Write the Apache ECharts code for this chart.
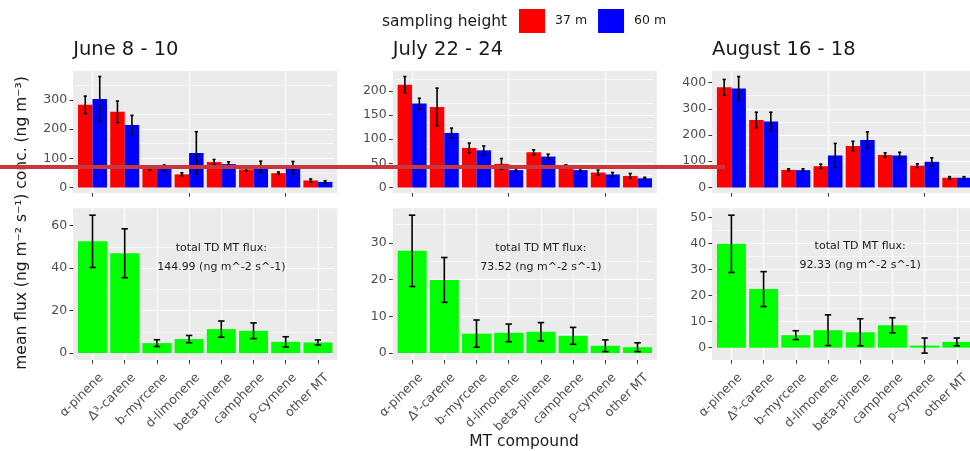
<!DOCTYPE html>
<html>
<head>
<meta charset="utf-8">
<script src="https://cdn.jsdelivr.net/npm/echarts@6/dist/echarts.min.js"></script>
<style>
  html, body { margin: 0; padding: 0; background: #fff; }
  #chart { width: 970px; height: 451px; }
</style>
</head>
<body>
<div id="chart"></div>
<script>
/* MT concentrations (top row, 37 m vs 60 m) and fluxes (bottom row), faceted by period */

const categories = ["α-pinene", "Δ³-carene", "b-myrcene", "d-limonene", "beta-pinene", "camphene", "p-cymene", "other MT"];
const periods = ["June 8 - 10", "July 22 - 24", "August 16 - 18"];

// concentration, ng m^-3 (mean and error half-width)
const conc37Jun    = [283, 259, 65, 45, 87, 62, 49, 24];
const conc37JunErr = [30, 37, 5, 5, 9, 5, 4, 5];
const conc60Jun    = [303, 214, 66, 118, 80, 70, 68, 19];
const conc60JunErr = [77, 33, 11, 73, 8, 20, 21, 4];

const conc37Jul    = [213, 167, 82, 49, 73, 44, 31, 24];
const conc37JulErr = [17, 39, 10, 11, 5, 3, 5, 5];
const conc60Jul    = [174, 113, 77, 36, 64, 36, 27, 19];
const conc60JulErr = [11, 10, 9, 3, 5, 3, 4, 2];

const conc37Aug    = [382, 257, 67, 81, 158, 124, 83, 37];
const conc37AugErr = [30, 30, 4, 8, 18, 8, 7, 4];
const conc60Aug    = [377, 252, 66, 122, 181, 122, 98, 37];
const conc60AugErr = [46, 35, 5, 46, 31, 12, 15, 4];

// flux, ng m^-2 s^-1
const fluxJun    = [52.6, 47.0, 4.7, 6.6, 11.3, 10.5, 5.3, 5.0];
const fluxJunErr = [12.3, 11.5, 1.6, 1.7, 3.8, 3.7, 2.4, 1.2];
const fluxJul    = [27.8, 19.9, 5.3, 5.5, 5.8, 4.7, 2.0, 1.6];
const fluxJulErr = [9.7, 6.1, 3.7, 2.4, 2.5, 2.3, 1.6, 1.2];
const fluxAug    = [39.9, 22.5, 4.8, 6.7, 5.9, 8.6, 0.8, 2.2];
const fluxAugErr = [11.0, 6.7, 1.7, 5.9, 5.2, 2.9, 2.9, 1.5];

const totalFlux  = ["144.99", "73.52", "92.33"];
const totalFluxY = [45, 26, 35.4];   // where the label sits (data units)

const concTicks = [[0, 100, 200, 300], [0, 50, 100, 150, 200], [0, 100, 200, 300, 400]];
const fluxTicks = [[0, 20, 40, 60], [0, 10, 20, 30], [0, 10, 20, 30, 40, 50]];

(function () {
  const FONT = "DejaVu Sans";
  const chart = echarts.init(document.getElementById("chart"), null, { renderer: "canvas" });

  const conc = [
    [conc37Jun, conc37JunErr, conc60Jun, conc60JunErr],
    [conc37Jul, conc37JulErr, conc60Jul, conc60JulErr],
    [conc37Aug, conc37AugErr, conc60Aug, conc60AugErr]
  ];
  const flux = [[fluxJun, fluxJunErr], [fluxJul, fluxJulErr], [fluxAug, fluxAugErr]];

  // layout (ggplot panel = grid + 0.1 band on each side)
  const band = 32.2;
  const colLeft = [76.4, 396, 715.3];
  const rowTop = [71, 208.3];
  const rowH = [122, 151.7];

  // ggplot-like limits: include 0 and error bars, expand 5%
  function limits(sets) {
    let lo = 0, hi = 0;
    sets.forEach(([v, e]) => v.forEach((x, i) => {
      lo = Math.min(lo, x - e[i]);
      hi = Math.max(hi, x + e[i]);
    }));
    const pad = (hi - lo) * 0.05;
    return [lo - pad, hi + pad];
  }

  function errorBars(offset, cap) {
    return function (params, api) {
      const i = api.value(0), v = api.value(1), e = api.value(2);
      const w = api.size([1, 0])[0];
      const top = api.coord([i, v + e]);
      const bot = api.coord([i, v - e]);
      const x = top[0] + offset * w;
      const h = cap * w / 2;
      const style = { stroke: "#000", lineWidth: 1.6 };
      return {
        type: "group",
        children: [
          { type: "line", shape: { x1: x, y1: top[1], x2: x, y2: bot[1] }, style },
          { type: "line", shape: { x1: x - h, y1: top[1], x2: x + h, y2: top[1] }, style },
          { type: "line", shape: { x1: x - h, y1: bot[1], x2: x + h, y2: bot[1] }, style }
        ]
      };
    };
  }

  const grids = [], xAxes = [], yAxes = [], series = [], graphics = [];

  for (let r = 0; r < 2; r++) {
    for (let c = 0; c < 3; c++) {
      const k = r * 3 + c;
      const lim = r === 0
        ? limits([[conc[c][0], conc[c][1]], [conc[c][2], conc[c][3]]])
        : limits([flux[c]]);
      const ticks = r === 0 ? concTicks[c] : fluxTicks[c];
      const step = ticks[1] - ticks[0];

      grids.push({
        left: colLeft[c], top: rowTop[r], width: band * 8, height: rowH[r],
        containLabel: false, outerBoundsMode: "none", show: false
      });

      // panel background
      graphics.push({
        type: "rect", z: -1, silent: true,
        shape: { x: colLeft[c] - band * 0.1, y: rowTop[r], width: band * 8.2, height: rowH[r] },
        style: { fill: "#ebebeb" }
      });

      xAxes.push({
        type: "category", gridIndex: k, data: categories, boundaryGap: true,
        axisLine: { show: false, onZero: false },
        axisTick: { show: true, alignWithLabel: true, length: 3.7, lineStyle: { color: "#333", width: 1 } },
        splitLine: { show: true, alignWithLabel: true, lineStyle: { color: "#fff", width: 1.2 } },
        axisLabel: r === 0 ? { show: false } : {
          show: true, interval: 0, rotate: 45, margin: 7,
          align: "right", verticalAlign: "top", padding: [6, 0, 0, 0],
          fontFamily: FONT, fontSize: 12.5, color: "#4d4d4d"
        }
      });

      yAxes.push({
        type: "value", gridIndex: k, min: lim[0], max: lim[1],
        splitNumber: Math.round((lim[1] - lim[0]) / step),
        offset: band * 0.1,
        axisLine: { show: false },
        axisTick: { show: true, length: 3.7, customValues: ticks, lineStyle: { color: "#333", width: 1 } },
        axisLabel: { customValues: ticks, margin: 6, fontFamily: FONT, fontSize: 12.5, color: "#4d4d4d" },
        splitLine: { show: true, showMinLine: false, showMaxLine: false, lineStyle: { color: "#fff", width: 1.2 } },
        minorTick: { show: false, splitNumber: 2 },
        minorSplitLine: { show: true, lineStyle: { color: "#fff", width: 0.6 } }
      });

      if (r === 0) {
        const [v37, e37, v60, e60] = conc[c];
        series.push(
          { name: "37 m", type: "bar", xAxisIndex: k, yAxisIndex: k, data: v37,
            barGap: "0%", barCategoryGap: "10%", itemStyle: { color: "#ff0000" } },
          { name: "60 m", type: "bar", xAxisIndex: k, yAxisIndex: k, data: v60,
            barGap: "0%", barCategoryGap: "10%", itemStyle: { color: "#0000ff" } },
          { type: "custom", xAxisIndex: k, yAxisIndex: k, z: 5,
            data: v37.map((v, i) => [i, v, e37[i]]), renderItem: errorBars(-0.225, 0.1) },
          { type: "custom", xAxisIndex: k, yAxisIndex: k, z: 5,
            data: v60.map((v, i) => [i, v, e60[i]]), renderItem: errorBars(0.225, 0.1) }
        );

        graphics.push({
          type: "text", x: colLeft[c] - band * 0.1, y: 50,
          style: { text: periods[c], font: "19.5px '" + FONT + "'", fill: "#1a1a1a", align: "left", verticalAlign: "middle" }
        });
      } else {
        const [v, e] = flux[c];
        series.push(
          { name: "flux", type: "bar", xAxisIndex: k, yAxisIndex: k, data: v,
            barCategoryGap: "10%", itemStyle: { color: "#00ff00" } },
          { type: "custom", xAxisIndex: k, yAxisIndex: k, z: 5,
            data: v.map((x, i) => [i, x, e[i]]), renderItem: errorBars(0, 0.2) },
          { type: "custom", xAxisIndex: k, yAxisIndex: k, z: 6, silent: true,
            data: [[4, totalFluxY[c]]],
            renderItem: function (params, api) {
              const p = api.coord([api.value(0), api.value(1)]);
              return {
                type: "text", x: p[0], y: p[1],
                style: {
                  text: "total TD MT flux:\n" + totalFlux[c] + " (ng m^-2 s^-1)",
                  font: "11px '" + FONT + "'", fill: "#1a1a1a",
                  align: "center", verticalAlign: "middle", lineHeight: 19.5
                }
              };
            } }
        );
      }
    }
  }

  // titles, axis titles, legend title
  graphics.push(
    { type: "text", x: 382, y: 22,
      style: { text: "sampling height", font: "15.5px '" + FONT + "'", fill: "#1a1a1a", align: "left", verticalAlign: "middle" } },
    { type: "text", x: 524, y: 442,
      style: { text: "MT compound", font: "15.5px '" + FONT + "'", fill: "#1a1a1a", align: "center", verticalAlign: "middle" } },
    { type: "text", x: 22, y: 223, rotation: Math.PI / 2,
      style: { text: "mean flux (ng m⁻² s⁻¹) conc. (ng m⁻³)", font: "15.5px '" + FONT + "'", fill: "#1a1a1a", align: "center", verticalAlign: "middle" } },
    // red marker line drawn across the figure
    { type: "line", z: 100, silent: true,
      shape: { x1: 0, y1: 167, x2: 725, y2: 167 },
      style: { stroke: "#c8373b", lineWidth: 4 } }
  );

  chart.setOption({
    animation: false,
    backgroundColor: "#ffffff",
    legend: {
      data: ["37 m", "60 m"], left: 519, top: 9, padding: 0,
      icon: "rect", itemWidth: 26, itemHeight: 24, itemGap: 11, selectedMode: false,
      textStyle: { fontFamily: FONT, fontSize: 12.5, color: "#1a1a1a", padding: [0, 0, 0, 5] }
    },
    grid: grids,
    xAxis: xAxes,
    yAxis: yAxes,
    series: series,
    graphic: { elements: graphics }
  });
})();
</script>
</body>
</html>
